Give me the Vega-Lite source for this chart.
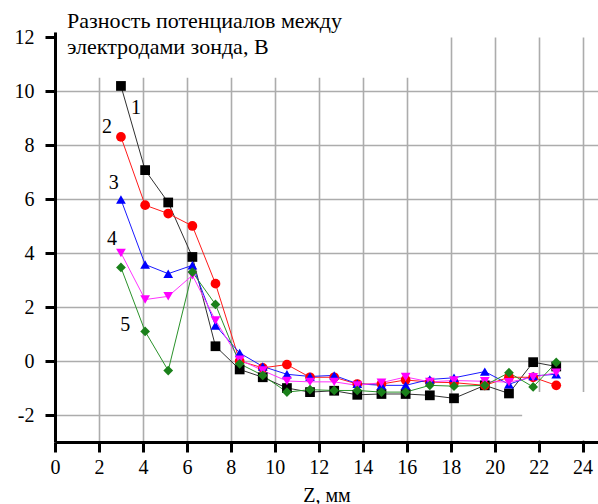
{
  "$schema": "https://vega.github.io/schema/vega-lite/v6.json",
  "width": 543,
  "height": 410,
  "autosize": {"type": "none"},
  "padding": {"left": 55, "top": 32, "right": 0, "bottom": 62},
  "background": "white",
  "config": {
    "view": {"stroke": null}
  },
  "title": {
    "text": ["Разность потенциалов между", "электродами зонда, В"],
    "anchor": "start",
    "frame": "group",
    "font": "Liberation Serif",
    "fontSize": 22,
    "fontWeight": "normal",
    "color": "black",
    "lineHeight": 26.5,
    "baseline": "alphabetic",
    "offset": 0,
    "dx": 12,
    "dy": 49,
    "zindex": 1
  },
  "datasets": {
    "pts": [
      {"s": "1", "x": 3.0, "y": 10.2}, {"s": "1", "x": 4.1, "y": 7.08}, {"s": "1", "x": 5.15, "y": 5.88}, {"s": "1", "x": 6.25, "y": 3.86}, {"s": "1", "x": 7.3, "y": 0.55}, {"s": "1", "x": 8.4, "y": -0.31}, {"s": "1", "x": 9.45, "y": -0.6}, {"s": "1", "x": 10.55, "y": -1.0}, {"s": "1", "x": 11.6, "y": -1.15}, {"s": "1", "x": 12.7, "y": -1.1}, {"s": "1", "x": 13.75, "y": -1.25}, {"s": "1", "x": 14.85, "y": -1.22}, {"s": "1", "x": 15.95, "y": -1.22}, {"s": "1", "x": 17.05, "y": -1.27}, {"s": "1", "x": 18.15, "y": -1.38}, {"s": "1", "x": 19.55, "y": -0.9}, {"s": "1", "x": 20.65, "y": -1.2}, {"s": "1", "x": 21.75, "y": -0.04}, {"s": "1", "x": 22.8, "y": -0.2},
      {"s": "2", "x": 3.0, "y": 8.31}, {"s": "2", "x": 4.1, "y": 5.78}, {"s": "2", "x": 5.15, "y": 5.47}, {"s": "2", "x": 6.25, "y": 5.01}, {"s": "2", "x": 7.3, "y": 2.87}, {"s": "2", "x": 8.4, "y": 0.0}, {"s": "2", "x": 9.45, "y": -0.25}, {"s": "2", "x": 10.55, "y": -0.13}, {"s": "2", "x": 11.6, "y": -0.6}, {"s": "2", "x": 12.7, "y": -0.6}, {"s": "2", "x": 13.75, "y": -0.85}, {"s": "2", "x": 14.85, "y": -0.85}, {"s": "2", "x": 15.95, "y": -0.7}, {"s": "2", "x": 17.05, "y": -0.78}, {"s": "2", "x": 18.15, "y": -0.8}, {"s": "2", "x": 19.55, "y": -0.9}, {"s": "2", "x": 20.65, "y": -0.6}, {"s": "2", "x": 21.75, "y": -0.6}, {"s": "2", "x": 22.8, "y": -0.9},
      {"s": "3", "x": 3.0, "y": 5.99}, {"s": "3", "x": 4.1, "y": 3.58}, {"s": "3", "x": 5.15, "y": 3.24}, {"s": "3", "x": 6.25, "y": 3.55}, {"s": "3", "x": 7.3, "y": 1.32}, {"s": "3", "x": 8.4, "y": 0.3}, {"s": "3", "x": 9.45, "y": -0.2}, {"s": "3", "x": 10.55, "y": -0.49}, {"s": "3", "x": 11.6, "y": -0.57}, {"s": "3", "x": 12.7, "y": -0.53}, {"s": "3", "x": 13.75, "y": -0.84}, {"s": "3", "x": 14.85, "y": -0.9}, {"s": "3", "x": 15.95, "y": -0.9}, {"s": "3", "x": 17.05, "y": -0.68}, {"s": "3", "x": 18.15, "y": -0.62}, {"s": "3", "x": 19.55, "y": -0.39}, {"s": "3", "x": 20.65, "y": -0.86}, {"s": "3", "x": 21.75, "y": -0.55}, {"s": "3", "x": 22.8, "y": -0.49},
      {"s": "4", "x": 3.0, "y": 4.01}, {"s": "4", "x": 4.1, "y": 2.28}, {"s": "4", "x": 5.15, "y": 2.4}, {"s": "4", "x": 6.25, "y": 3.18}, {"s": "4", "x": 7.3, "y": 1.51}, {"s": "4", "x": 8.4, "y": 0.05}, {"s": "4", "x": 9.45, "y": -0.35}, {"s": "4", "x": 10.55, "y": -0.74}, {"s": "4", "x": 11.6, "y": -0.77}, {"s": "4", "x": 12.7, "y": -0.77}, {"s": "4", "x": 13.75, "y": -0.9}, {"s": "4", "x": 14.85, "y": -0.8}, {"s": "4", "x": 15.95, "y": -0.59}, {"s": "4", "x": 17.05, "y": -0.77}, {"s": "4", "x": 18.15, "y": -0.72}, {"s": "4", "x": 19.55, "y": -0.75}, {"s": "4", "x": 20.65, "y": -0.78}, {"s": "4", "x": 21.75, "y": -0.6}, {"s": "4", "x": 22.8, "y": -0.43},
      {"s": "5", "x": 3.0, "y": 3.47}, {"s": "5", "x": 4.1, "y": 1.1}, {"s": "5", "x": 5.15, "y": -0.35}, {"s": "5", "x": 6.25, "y": 3.3}, {"s": "5", "x": 7.3, "y": 2.1}, {"s": "5", "x": 8.4, "y": -0.1}, {"s": "5", "x": 9.45, "y": -0.53}, {"s": "5", "x": 10.55, "y": -1.15}, {"s": "5", "x": 11.6, "y": -1.06}, {"s": "5", "x": 12.7, "y": -1.09}, {"s": "5", "x": 13.75, "y": -1.09}, {"s": "5", "x": 14.85, "y": -1.15}, {"s": "5", "x": 15.95, "y": -1.15}, {"s": "5", "x": 17.05, "y": -0.9}, {"s": "5", "x": 18.15, "y": -0.93}, {"s": "5", "x": 19.55, "y": -0.9}, {"s": "5", "x": 20.65, "y": -0.43}, {"s": "5", "x": 21.75, "y": -0.96}, {"s": "5", "x": 22.8, "y": -0.05}
    ],
    "labels": [
      {"label": "1", "x": 3.68, "y": 9.37},
      {"label": "2", "x": 2.36, "y": 8.66},
      {"label": "3", "x": 2.67, "y": 6.61},
      {"label": "4", "x": 2.59, "y": 4.54},
      {"label": "5", "x": 3.2, "y": 1.32}
    ],
    "masks": [
      {"x0": 0.1, "x1": 17.5, "y0": 10.5, "y1": 12.2},
      {"x0": 21.25, "x1": 24.7, "y0": -2.93, "y1": -1.15},
      {"x0": 17.5, "x1": 24.7, "y0": 12.0, "y1": 12.2}
    ]
  },
  "layer": [
    {
      "data": {"name": "masks"},
      "mark": {"type": "rect", "color": "white"},
      "encoding": {
        "x": {
          "field": "x0", "type": "quantitative",
          "scale": {"domain": [0, 24.7], "nice": false, "zero": false},
          "axis": {
            "values": [0, 1, 2, 3, 4, 5, 6, 7, 8, 9, 10, 11, 12, 13, 14, 15, 16, 17, 18, 19, 20, 21, 22, 23, 24],
            "title": "Z, мм",
            "titleFont": "Liberation Serif", "titleFontSize": 20, "titleFontWeight": "normal", "titleColor": "black",
            "titleBaseline": "alphabetic", "titleY": 59,
            "labelExpr": "datum.value % 2 === 0 ? '' + datum.value : ''",
            "labelFont": "Liberation Serif", "labelFontSize": 20, "labelColor": "black", "labelPadding": 5,
            "labelFlush": false, "labelOverlap": false,
            "domainColor": "black", "domainWidth": 3,
            "tickColor": "black",
            "tickSize": {"condition": {"test": "datum.value % 2 === 0", "value": 10}, "value": 5},
            "tickWidth": 3,
            "grid": true,
            "gridColor": {"condition": {"test": "datum.value % 2 === 0", "value": "#acacac"}, "value": "#c8c8c8"},
            "gridWidth": {"condition": {"test": "datum.value % 2 === 0", "value": 1.6}, "value": 1},
            "gridDash": {"condition": {"test": "datum.value % 2 === 0", "value": []}, "value": [3, 3]}
          }
        },
        "x2": {"field": "x1"},
        "y": {
          "field": "y0", "type": "quantitative",
          "scale": {"domain": [-3, 12.2], "nice": false, "zero": false},
          "axis": {
            "values": [-2, -1, 0, 1, 2, 3, 4, 5, 6, 7, 8, 9, 10, 11, 12],
            "title": null,
            "labelExpr": "datum.value % 2 === 0 ? '' + datum.value : ''",
            "labelFont": "Liberation Serif", "labelFontSize": 20, "labelColor": "black", "labelPadding": 11,
            "labelFlush": false, "labelOverlap": false,
            "domainColor": "black", "domainWidth": 3,
            "tickColor": "black",
            "tickSize": {"condition": {"test": "datum.value % 2 === 0", "value": 10}, "value": 5},
            "tickWidth": 3,
            "grid": true,
            "gridColor": {"condition": {"test": "datum.value % 2 === 0", "value": "#acacac"}, "value": "#c8c8c8"},
            "gridWidth": {"condition": {"test": "datum.value % 2 === 0", "value": 1.6}, "value": 1},
            "gridDash": {"condition": {"test": "datum.value % 2 === 0", "value": []}, "value": [3, 3]},
            "gridOpacity": {"condition": {"test": "datum.value === 12", "value": 0}, "value": 1}
          }
        },
        "y2": {"field": "y1"}
      }
    },
    {
      "data": {"name": "pts"},
      "mark": {"type": "line", "strokeWidth": 1},
      "encoding": {
        "x": {"field": "x", "type": "quantitative", "scale": {"domain": [0, 24.7], "nice": false, "zero": false}},
        "y": {"field": "y", "type": "quantitative", "scale": {"domain": [-3, 12.2], "nice": false, "zero": false}},
        "color": {
          "field": "s", "type": "nominal",
          "scale": {"domain": ["1", "2", "3", "4", "5"], "range": ["#303030", "#ff1a1a", "#1a1aff", "#ff33ff", "#2a922a"]},
          "legend": null
        },
        "order": {"field": "x", "type": "quantitative"}
      }
    },
    {
      "data": {"name": "pts"},
      "mark": {"type": "point", "filled": true, "opacity": 1},
      "encoding": {
        "x": {"field": "x", "type": "quantitative", "scale": {"domain": [0, 24.7], "nice": false, "zero": false}},
        "y": {"field": "y", "type": "quantitative", "scale": {"domain": [-3, 12.2], "nice": false, "zero": false}},
        "fill": {
          "field": "s", "type": "nominal",
          "scale": {"domain": ["1", "2", "3", "4", "5"], "range": ["#000000", "#ff0000", "#0000ff", "#ff00ff", "#1a801a"]},
          "legend": null
        },
        "shape": {
          "field": "s", "type": "nominal",
          "scale": {"domain": ["1", "2", "3", "4", "5"], "range": ["square", "circle", "triangle-up", "triangle-down", "diamond"]},
          "legend": null
        },
        "size": {
          "field": "s", "type": "nominal",
          "scale": {"domain": ["1", "2", "3", "4", "5"], "range": [95, 95, 110, 110, 140]},
          "legend": null
        }
      }
    },
    {
      "data": {"name": "labels"},
      "mark": {"type": "text", "font": "Liberation Serif", "fontSize": 20, "color": "black", "align": "center", "baseline": "middle"},
      "encoding": {
        "x": {"field": "x", "type": "quantitative", "scale": {"domain": [0, 24.7], "nice": false, "zero": false}},
        "y": {"field": "y", "type": "quantitative", "scale": {"domain": [-3, 12.2], "nice": false, "zero": false}},
        "text": {"field": "label"}
      }
    }
  ]
}
